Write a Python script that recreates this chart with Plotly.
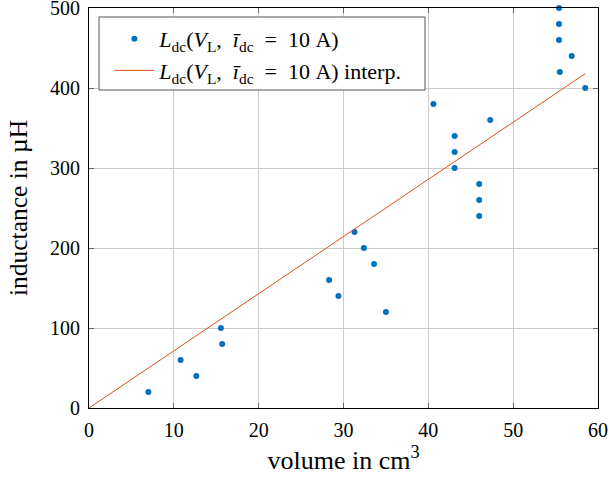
import plotly.graph_objects as go

volume = [7.0, 10.8, 12.65, 15.55, 15.7, 28.3, 29.4, 31.3, 32.4, 33.6, 35.0,
          40.6, 43.1, 43.1, 43.1, 46.0, 46.0, 46.0, 47.3,
          55.4, 55.4, 55.4, 55.5, 56.9, 58.5]
inductance = [20, 60, 40, 100, 80, 160, 140, 220, 200, 180, 120,
              380, 340, 320, 300, 280, 260, 240, 360,
              500, 480, 460, 420, 440, 400]

interp_x = [0, 58.5]
interp_y = [0, 418]

x_ticks = [0, 10, 20, 30, 40, 50, 60]
y_ticks = [0, 100, 200, 300, 400, 500]

font_family = "Liberation Serif, DejaVu Serif, serif"
label = ("<i>L</i><sub>dc</sub>(<i>V</i><sub>L</sub>,&nbsp; <i>ī</i><sub>dc</sub>"
         "&nbsp; = &nbsp;10&nbsp;A)")

fig = go.Figure()
fig.add_trace(go.Scatter(
    x=volume, y=inductance, mode='markers', name=label,
    marker=dict(color='#0072BD', size=6),
    cliponaxis=False
))
fig.add_trace(go.Scatter(
    x=interp_x, y=interp_y, mode='lines', name=label + " interp.",
    line=dict(color='#D95319', width=1)
))

axis_style = dict(
    showgrid=True, gridcolor='#cccccc', gridwidth=1,
    showline=True, linecolor='black', linewidth=1, mirror='ticks',
    ticks='inside', ticklen=5, tickcolor='#666666',
    zeroline=False, automargin=False, ticklabelstandoff=4,
    ticklabeloverflow='allow',
    tickfont=dict(size=20, color='black', family=font_family),
)

fig.update_xaxes(range=[0, 60], tickvals=x_ticks, ticktext=[str(v) for v in x_ticks],
                 title=dict(text="volume in cm<sup>3</sup>",
                            font=dict(size=26, color='black', family=font_family), standoff=10),
                 **axis_style)
fig.update_yaxes(range=[0, 500], tickvals=y_ticks, ticktext=[str(v) for v in y_ticks],
                 title=dict(text="inductance in µH",
                            font=dict(size=25.5, color='black', family=font_family), standoff=15),
                 **axis_style)

# legend frame (TeX-style box wider than its text)
fig.add_shape(type='rect', xref='paper', yref='paper',
              x0=10/509, x1=336/509, y0=318/400, y1=391/400,
              line=dict(color='#555555', width=1), fillcolor='white', layer='above')

fig.update_layout(
    width=609, height=478,
    margin=dict(l=89, r=11, t=8, b=70, autoexpand=False),
    plot_bgcolor='white', paper_bgcolor='white',
    font=dict(family=font_family, color='black', size=20),
    legend=dict(x=0.04, y=0.975, xanchor='left', yanchor='top',
                bgcolor='rgba(0,0,0,0)', borderwidth=0,
                font=dict(size=22, family=font_family),
                itemwidth=40, tracegroupgap=2),
    showlegend=True,
)

fig.write_html("out.html", config={'displayModeBar': False},
               post_script="document.body.style.margin='0';")
